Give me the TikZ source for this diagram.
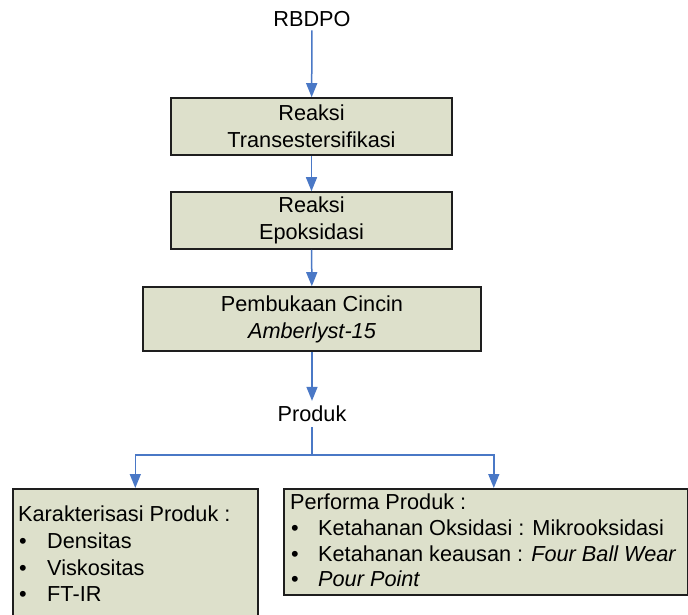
\documentclass[tikz,border=0pt]{standalone}
\usepackage{fontspec}
\setmainfont{Liberation Sans}
\usetikzlibrary{arrows.meta}
\definecolor{boxfill}{HTML}{DDE0CB}
\definecolor{arrowblue}{HTML}{4A78C6}
\definecolor{boxline}{HTML}{1E1E1E}
\newcommand{\bul}[1]{\makebox[#1][l]{\hspace{1pt}\textbullet}}
\begin{document}
\begin{tikzpicture}[x=1pt,y=-1pt,
  procbox/.style={draw=boxline, line width=1.6pt, fill=boxfill, inner sep=0pt, align=center,
    font=\fontsize{21.7}{26.8}\selectfont},
  listbox/.style={draw=boxline, line width=1.6pt, fill=boxfill, inner sep=0pt, anchor=north west},
  listline/.style={inner sep=0pt, anchor=base west, font=\fontsize{21.7}{26}\selectfont},
  flow/.style={draw=arrowblue, line width=1.5pt, -{Triangle[length=14pt,width=11pt]}},
  link/.style={draw=arrowblue, line width=1.5pt},
  plain/.style={font=\fontsize{21.7}{26}\selectfont, inner sep=0pt}]
\useasboundingbox (0,0) rectangle (688,615);
\fill[white] (0,0) rectangle (688,615);

\node[plain, inner ysep=3pt] (rbdpo) at (312,19.5) {RBDPO};
\node[procbox, minimum width=281, minimum height=57] (trans) at (311.5,126.5) {Reaksi\\Transestersifikasi};
\node[procbox, minimum width=281, minimum height=57] (epok) at (311.5,220.5) {Reaksi\\Epoksidasi};
\node[procbox, minimum width=338, minimum height=64] (cincin) at (312,319) {Pembukaan Cincin\\\textit{Amberlyst-15}};
\node[plain, inner ysep=5pt] (produk) at (312,414) {Produk};

\node[listbox, minimum width=245, minimum height=150] (kar) at (12,488) {};
\node[listbox, minimum width=404, minimum height=106] (perf) at (283,488) {};

\node[listline] (k0) at (18,521) {Karakterisasi Produk :};
\node[listline] (k1) at (18,548) {\bul{29pt}Densitas};
\node[listline] (k2) at (18,575) {\bul{29pt}Viskositas};
\node[listline] (k3) at (18,601) {\bul{29pt}FT-IR};

\node[listline] (p0) at (290,509) {Performa Produk :};
\node[listline] (p1) at (290,535) {\bul{28pt}Ketahanan Oksidasi : Mikrooksidasi};
\node[listline] (p2) at (290,561) {\bul{28pt}Ketahanan keausan : \textit{Four Ball Wear}};
\node[listline] (p3) at (290,586) {\bul{28pt}\textit{Pour Point}};

\coordinate (split) at (312,455);

\draw[flow] (rbdpo) -- (trans);
\draw[flow] (trans) -- (epok);
\draw[flow] (epok) -- (cincin);
\draw[flow] (cincin) -- (produk);
\draw[link] (produk.south) -- (split);
\draw[flow] (split) -| (kar.north);
\draw[flow] (split) -| ([xshift=8pt]perf.north);
\end{tikzpicture}
\end{document}
